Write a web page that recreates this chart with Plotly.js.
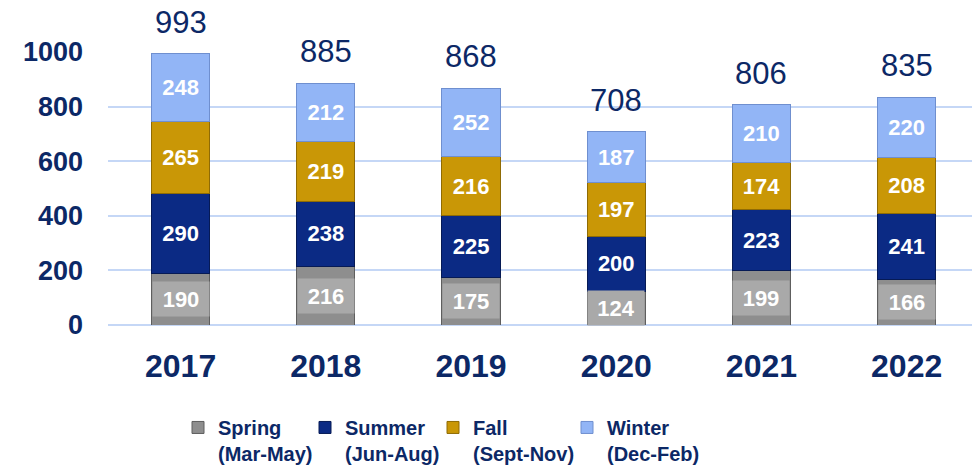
<!DOCTYPE html>
<html>
<head>
<meta charset="utf-8">
<script src="https://cdn.plot.ly/plotly-3.0.1.min.js"></script>
<style>html,body{margin:0;padding:0;background:#fff;}#chart{width:972px;height:470px;}</style>
</head>
<body>
<div id="chart"></div>
<script>
const years = ['2017', '2018', '2019', '2020', '2021', '2022'];
const spring = [190, 216, 175, 124, 199, 166];
const summer = [290, 238, 225, 200, 223, 241];
const fall = [265, 219, 216, 197, 174, 208];
const winter = [248, 212, 252, 187, 210, 220];
const seriesNames = ['Spring<br>(Mar-May)', 'Summer<br>(Jun-Aug)', 'Fall<br>(Sept-Nov)', 'Winter<br>(Dec-Feb)'];

const navy = '#0c2866';
const colors = ['#8e8e8e', '#0b2a84', '#c99706', '#92b5f6'];
const lines = ['#5e5e5e', '#061a55', '#8f6b04', '#6f8fcf'];
const allSeries = [spring, summer, fall, winter];
const legendIds = ['legend', 'legend2', 'legend3', 'legend4'];
const legendLeftPx = [178, 305, 433, 567];

const totals = years.map((_, i) => allSeries.reduce((s, arr) => s + arr[i], 0));

const traces = allSeries.map((vals, k) => ({
  type: 'bar',
  x: years,
  y: vals,
  name: seriesNames[k],
  legend: legendIds[k],
  width: 0.4,
  marker: {color: colors[k], line: {color: lines[k], width: 1}},
  text: k === 0 ? vals.map(() => '') : vals.map(String),
  textposition: 'inside',
  insidetextanchor: 'middle',
  textangle: 0,
  textfont: {family: 'Liberation Sans, Arial, sans-serif', size: 22, color: '#ffffff', weight: 'bold'},
  hoverinfo: 'skip'
}));

const annotations = [];
years.forEach((yr, i) => {
  annotations.push({
    x: i, y: totals[i], xref: 'x', yref: 'y',
    text: String(totals[i]), showarrow: false,
    yanchor: 'bottom', yshift: 12,
    font: {family: 'Liberation Sans, Arial, sans-serif', size: 31, color: navy}
  });
  annotations.push({
    x: i, y: spring[i] / 2, xref: 'x', yref: 'y',
    text: '<b>' + spring[i] + '</b>', showarrow: false,
    bgcolor: '#a9a9a9', width: 54, height: 32,
    font: {family: 'Liberation Sans, Arial, sans-serif', size: 22, color: '#ffffff'}
  });
});

const layout = {
  width: 972, height: 470,
  margin: {l: 108, r: 0, t: 52, b: 145},
  paper_bgcolor: '#ffffff', plot_bgcolor: '#ffffff',
  barmode: 'stack',
  showlegend: true,
  font: {family: 'Liberation Sans, Arial, sans-serif', color: navy},
  xaxis: {
    type: 'category',
    range: [-0.5, 5.45],
    showgrid: false, zeroline: false, showline: false,
    ticks: '', ticklabelstandoff: 19,
    tickfont: {size: 32, color: navy, weight: 'bold'}
  },
  yaxis: {
    range: [0, 1000],
    tickvals: [0, 200, 400, 600, 800, 1000],
    showgrid: true, gridcolor: '#c5d7f6', gridwidth: 2,
    zeroline: true, zerolinecolor: '#c5d7f6', zerolinewidth: 2,
    showline: false, ticks: '', ticklabelstandoff: 24,
    tickfont: {size: 27, color: navy, weight: 'bold'}
  },
  annotations: annotations
};

legendIds.forEach((id, k) => {
  layout[id] = {
    orientation: 'h',
    xref: 'container', yref: 'container',
    x: legendLeftPx[k] / 972, xanchor: 'left',
    y: 0.132, yanchor: 'top',
    valign: 'top',
    font: {size: 20, color: navy, weight: 'bold'},
    bgcolor: 'rgba(0,0,0,0)'
  };
});

Plotly.newPlot('chart', traces, layout, {displayModeBar: false, staticPlot: true});
</script>
</body>
</html>
